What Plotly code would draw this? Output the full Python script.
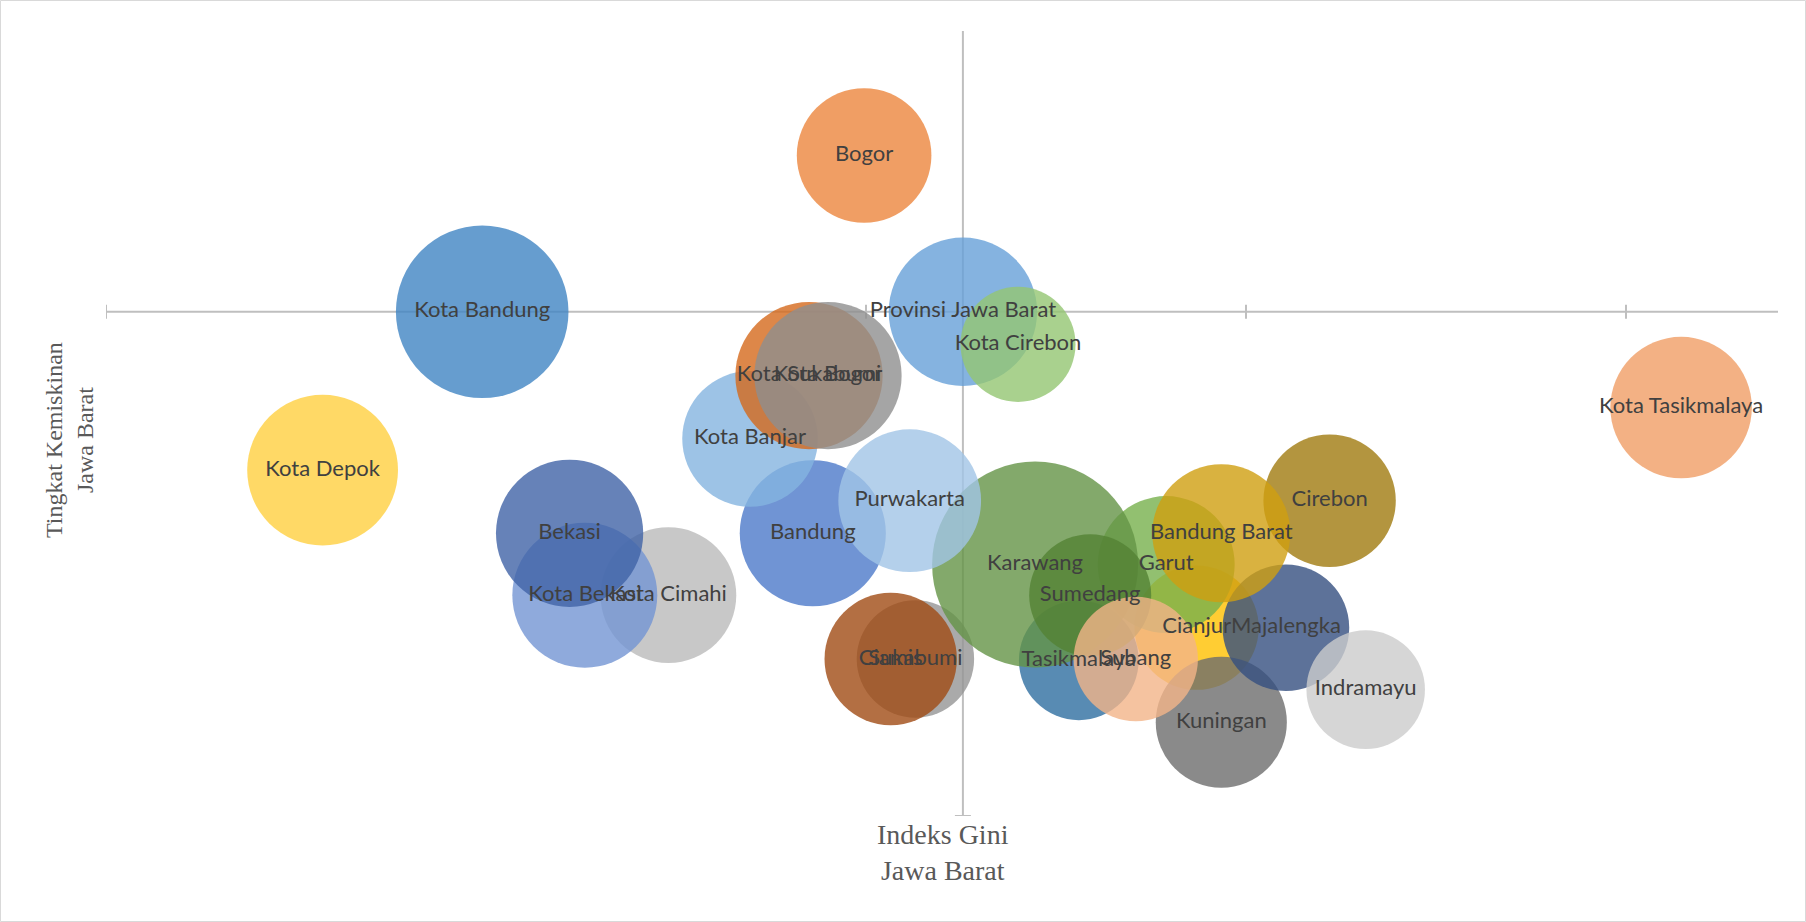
import plotly.graph_objects as go

# ---------------- data ----------------
regions = [
    "Provinsi Jawa Barat", "Bogor", "Sukabumi", "Ciamis", "Cianjur", "Kuningan",
    "Majalengka", "Indramayu", "Garut", "Cirebon", "Bandung Barat", "Tasikmalaya",
    "Karawang", "Sumedang", "Subang", "Bandung", "Purwakarta", "Kota Cimahi",
    "Kota Bekasi", "Bekasi", "Kota Banjar", "Kota Sukabumi", "Kota Bogor",
    "Kota Bandung", "Kota Cirebon", "Kota Depok", "Kota Tasikmalaya",
]
gini = [
    0.3751, 0.3699, 0.3726, 0.3713, 0.3874, 0.3887,
    0.3921, 0.3963, 0.3858, 0.3944, 0.3887, 0.3812,
    0.3789, 0.3818, 0.3842, 0.3672, 0.3723, 0.3596,
    0.3552, 0.3544, 0.3639, 0.3670, 0.3680,
    0.3498, 0.3780, 0.3414, 0.4129,
]
kemiskinan = [
    7.90, 10.35, 2.46, 2.46, 2.95, 1.47,
    2.95, 1.98, 3.94, 4.94, 4.43, 2.44,
    3.94, 3.46, 2.46, 4.43, 4.94, 3.46,
    3.46, 4.43, 5.91, 6.90, 6.90,
    7.90, 7.39, 5.42, 6.40,
]
bubble = [
    51.9, 42.7, 32.5, 41.3, 36.4, 40.5,
    37.8, 33.1, 44.2, 41.3, 44.9, 33.8,
    100.0, 35.1, 36.4, 50.3, 48.0, 43.4,
    49.5, 51.1, 43.4, 51.1, 51.1,
    70.2, 31.2, 53.6, 47.2,
]
x_ticks = [0.33, 0.35, 0.37, 0.39, 0.41]
y_ticks = [0.0]

# ---------------- style ----------------
base_colors = [
    "#66A0D8", "#EC863D", "#959595", "#A04B14", "#FFC000", "#6D6D6D",
    "#354F80", "#CCCCCC", "#77B04C", "#A07B0F", "#CF9F10", "#2E6EA0",
    "#649446", "#548235", "#F2B488", "#4C79C9", "#A1C4E6", "#BABABA",
    "#7395D3", "#4063A6", "#84B4E0", "#D5691C", "#8F8F8F",
    "#4084C3", "#94C672", "#FFCF40", "#F09D65",
]
ALPHA = 0.8


def rgba(h, a):
    h = h.lstrip("#")
    r, g, b = int(h[0:2], 16), int(h[2:4], 16), int(h[4:6], 16)
    return f"rgba({r},{g},{b},{a})"


fill = [rgba(c, ALPHA) for c in base_colors]

W, H = 1806, 922
ML, MR, MT, MB = 106, 28, 31, 106
PW, PH = W - ML - MR, H - MT - MB
X_RANGE = [0.33, 0.418]
Y_RANGE = [0.0, 12.3]
MAX_DIAM = 206
AXIS_COLOR = "#BFBFBF"

cross_x = gini[0]
cross_y = kemiskinan[0]

fig = go.Figure()
fig.add_trace(go.Scatter(
    x=gini, y=kemiskinan, text=regions,
    mode="markers+text", textposition="middle center",
    textfont=dict(family="Lato", size=22, color="#404040"),
    marker=dict(size=bubble, sizemode="area",
                sizeref=2.0 * max(bubble) / (MAX_DIAM ** 2),
                color=fill, opacity=1, line=dict(width=0)),
    cliponaxis=False, showlegend=False, hoverinfo="text",
))

shapes = []
# horizontal axis line (crossing at province poverty rate)
shapes.append(dict(type="line", xref="x", yref="y", x0=X_RANGE[0], x1=X_RANGE[1],
                   y0=cross_y, y1=cross_y, line=dict(color=AXIS_COLOR, width=2),
                   layer="below"))
# vertical axis line (crossing at province Gini)
shapes.append(dict(type="line", xref="x", yref="y", x0=cross_x, x1=cross_x,
                   y0=Y_RANGE[0], y1=Y_RANGE[1], line=dict(color=AXIS_COLOR, width=2),
                   layer="below"))
for t in x_ticks:
    shapes.append(dict(type="line", xref="x", yref="y", ysizemode="pixel",
                       yanchor=cross_y, x0=t, x1=t, y0=-7, y1=7,
                       line=dict(color=AXIS_COLOR, width=2), layer="below"))
for t in y_ticks:
    shapes.append(dict(type="line", xref="x", yref="y", xsizemode="pixel",
                       xanchor=cross_x, x0=-8, x1=8, y0=t, y1=t,
                       line=dict(color=AXIS_COLOR, width=2), layer="below"))
# chart border
shapes.append(dict(type="rect", xref="paper", yref="paper",
                   x0=(-ML + 0.5) / PW, x1=1 + (MR - 0.5) / PW,
                   y0=(-MB + 0.5) / PH, y1=1 + (MT - 0.5) / PH,
                   line=dict(color="#D9D9D9", width=1), layer="below"))

annotations = [
    dict(text="Indeks Gini<br>Jawa Barat", xref="paper", yref="paper",
         x=(943 - ML) / PW, y=(H - MB - 852) / PH, xanchor="center", yanchor="middle",
         showarrow=False, align="center",
         font=dict(family="Liberation Serif", size=28, color="#595959")),
    dict(text="Tingkat Kemiskinan<br>Jawa Barat", xref="paper", yref="paper",
         x=(69 - ML) / PW, y=(H - MB - 440) / PH, xanchor="center", yanchor="middle",
         showarrow=False, align="center", textangle=-90,
         font=dict(family="Liberation Serif", size=24, color="#595959")),
]

fig.update_layout(
    width=W, height=H,
    margin=dict(l=ML, r=MR, t=MT, b=MB, pad=0),
    paper_bgcolor="white", plot_bgcolor="white",
    xaxis=dict(range=X_RANGE, visible=False, showgrid=False, zeroline=False),
    yaxis=dict(range=Y_RANGE, visible=False, showgrid=False, zeroline=False),
    shapes=shapes, annotations=annotations,
)

fig.write_html("out.html")
